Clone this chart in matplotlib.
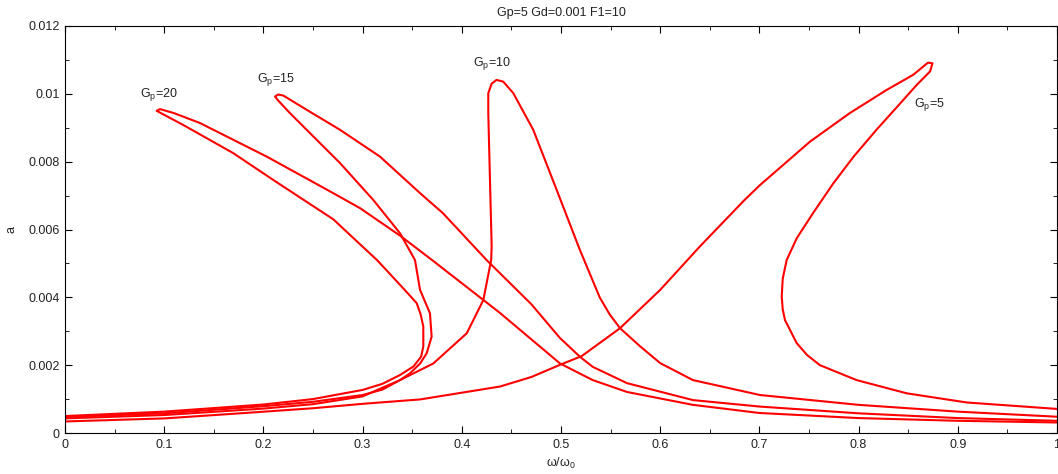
import matplotlib
matplotlib.use("Agg")
import matplotlib.pyplot as plt
from matplotlib.ticker import MultipleLocator, FuncFormatter

plt.rcParams['font.family'] = ['Liberation Sans', 'DejaVu Sans']
plt.rcParams['font.size'] = 9
plt.rcParams['mathtext.fontset'] = 'custom'
plt.rcParams['mathtext.rm'] = 'Liberation Sans'

# ---- data ----
gp20_x = [0, 0.1, 0.2, 0.25, 0.3, 0.32, 0.3377, 0.3512, 0.3590, 0.3612, 0.3612, 0.3585, 0.3545,
          0.3377, 0.3145, 0.2906, 0.2705, 0.21, 0.1697, 0.1193, 0.1000, 0.0924, 0.0958, 0.1100,
          0.136, 0.2033, 0.2705, 0.2974, 0.3377, 0.37, 0.4385, 0.499, 0.532, 0.5665, 0.633,
          0.70, 0.8, 0.9, 1.0]
gp20_a = [0.00050, 0.00063, 0.00084, 0.00100, 0.00127, 0.00145, 0.00171, 0.00196, 0.00225,
          0.00255, 0.00314, 0.00350, 0.00383, 0.00437, 0.00510, 0.00575, 0.00630, 0.00746,
          0.00825, 0.00908, 0.00938, 0.00950, 0.00955, 0.00943, 0.00914, 0.00815, 0.00707,
          0.00663, 0.00582, 0.00510, 0.00354, 0.00205, 0.00156, 0.00121, 0.00083, 0.00059,
          0.00044, 0.00036, 0.00031]

gp15_x = [0, 0.1, 0.2, 0.25, 0.3, 0.32, 0.3377, 0.3478, 0.3580, 0.3646, 0.3696, 0.3679, 0.3579,
          0.3528, 0.3377, 0.3108, 0.2772, 0.2436, 0.2268, 0.2150, 0.2117, 0.2150, 0.2200,
          0.2436, 0.2772, 0.3175, 0.358, 0.381, 0.425, 0.47, 0.499, 0.519, 0.532, 0.5665,
          0.633, 0.70, 0.8, 0.9, 1.0]
gp15_a = [0.00047, 0.00058, 0.00079, 0.00092, 0.00112, 0.00128, 0.00156, 0.00176, 0.00205,
          0.00235, 0.00284, 0.00353, 0.00422, 0.00510, 0.00589, 0.00687, 0.00796, 0.00894,
          0.00943, 0.00980, 0.00992, 0.00998, 0.00995, 0.00953, 0.00894, 0.00815, 0.00707,
          0.00648, 0.00510, 0.00380, 0.00280, 0.00225, 0.00195, 0.00147, 0.00097, 0.00078,
          0.00058, 0.00044, 0.00036]

gp10_x = [0, 0.1, 0.2, 0.25, 0.3, 0.3377, 0.3713, 0.405, 0.4217, 0.4296, 0.4301, 0.4284,
          0.4267, 0.4267, 0.4301, 0.435, 0.4418, 0.4519, 0.472, 0.4956, 0.519, 0.539, 0.549,
          0.5595, 0.58, 0.6, 0.633, 0.7006, 0.8, 0.9, 1.0]
gp10_a = [0.00043, 0.00053, 0.00072, 0.00085, 0.00108, 0.00156, 0.00205, 0.00294, 0.00392,
          0.00510, 0.00550, 0.00746, 0.00943, 0.01002, 0.01030, 0.01041, 0.01036, 0.01002,
          0.00894, 0.00717, 0.00540, 0.00400, 0.00350, 0.00309, 0.00255, 0.00206, 0.00156,
          0.00112, 0.00083, 0.00063, 0.00048]

gp5_x = [0, 0.1, 0.1764, 0.25, 0.3, 0.358, 0.4385, 0.47, 0.499, 0.521, 0.5595, 0.6, 0.64,
         0.685, 0.7006, 0.751, 0.791, 0.828, 0.855, 0.870, 0.8745, 0.872, 0.8585, 0.842,
         0.818, 0.795, 0.7745, 0.754, 0.7376, 0.7275, 0.7235, 0.7225, 0.7235, 0.7258, 0.7376,
         0.748, 0.761, 0.798, 0.8485, 0.909, 1.0]
gp5_a = [0.00034, 0.00043, 0.00058, 0.00073, 0.00086, 0.00099, 0.00137, 0.00165, 0.00201,
         0.00227, 0.00309, 0.00422, 0.00550, 0.00687, 0.00731, 0.00859, 0.00943, 0.01011,
         0.01056, 0.01092, 0.01090, 0.01066, 0.01026, 0.00972, 0.00894, 0.00815, 0.00736,
         0.00648, 0.00574, 0.00510, 0.00455, 0.00402, 0.00365, 0.00333, 0.00265, 0.00230,
         0.00200, 0.00156, 0.00117, 0.00090, 0.00071]

labels = ['G$_\\mathregular{p}$=20', 'G$_\\mathregular{p}$=15',
          'G$_\\mathregular{p}$=10', 'G$_\\mathregular{p}$=5']
label_x = [0.0756, 0.1935, 0.4113, 0.856]
label_a = [0.00992, 0.01035, 0.01083, 0.0096]

title = 'Gp=5 Gd=0.001 F1=10'

# ---- figure ----
fig = plt.figure(figsize=(10.58, 4.74), dpi=100)
ax = fig.add_axes([65 / 1058, 1 - 433 / 474, 992 / 1058, 407 / 474])

for xs, ys in [(gp20_x, gp20_a), (gp15_x, gp15_a), (gp10_x, gp10_a), (gp5_x, gp5_a)]:
    ax.plot(xs, ys, color='red', lw=1.5, solid_joinstyle='round')

txtc = '#222222'
for lab, lx, la in zip(labels, label_x, label_a):
    ax.text(lx, la, lab, ha='left', va='baseline', fontsize=9, color=txtc)

ax.set_xlim(0, 1)
ax.set_ylim(0, 0.012)
ax.xaxis.set_major_locator(MultipleLocator(0.1))
ax.xaxis.set_minor_locator(MultipleLocator(0.05))
ax.yaxis.set_major_locator(MultipleLocator(0.002))
ax.yaxis.set_minor_locator(MultipleLocator(0.001))
fmt = FuncFormatter(lambda v, p: '%g' % round(v, 6))
ax.xaxis.set_major_formatter(fmt)
ax.yaxis.set_major_formatter(fmt)
ax.tick_params(which='both', direction='in', top=True, right=True, colors='black',
               labelcolor=txtc, labelsize=9)
ax.tick_params(which='major', length=5, width=0.8, pad=4)
ax.tick_params(which='minor', length=3, width=0.6)
for s in ax.spines.values():
    s.set_linewidth(0.8)

ax.set_title(title, fontsize=9, color=txtc, pad=7)
ax.set_xlabel('ω/ω$_\\mathregular{0}$', fontsize=9, color=txtc, labelpad=4)
ax.set_ylabel('a', fontsize=9, color=txtc)
ax.yaxis.set_label_coords(-0.048, 0.5)

fig.savefig('out.png', dpi=100)
